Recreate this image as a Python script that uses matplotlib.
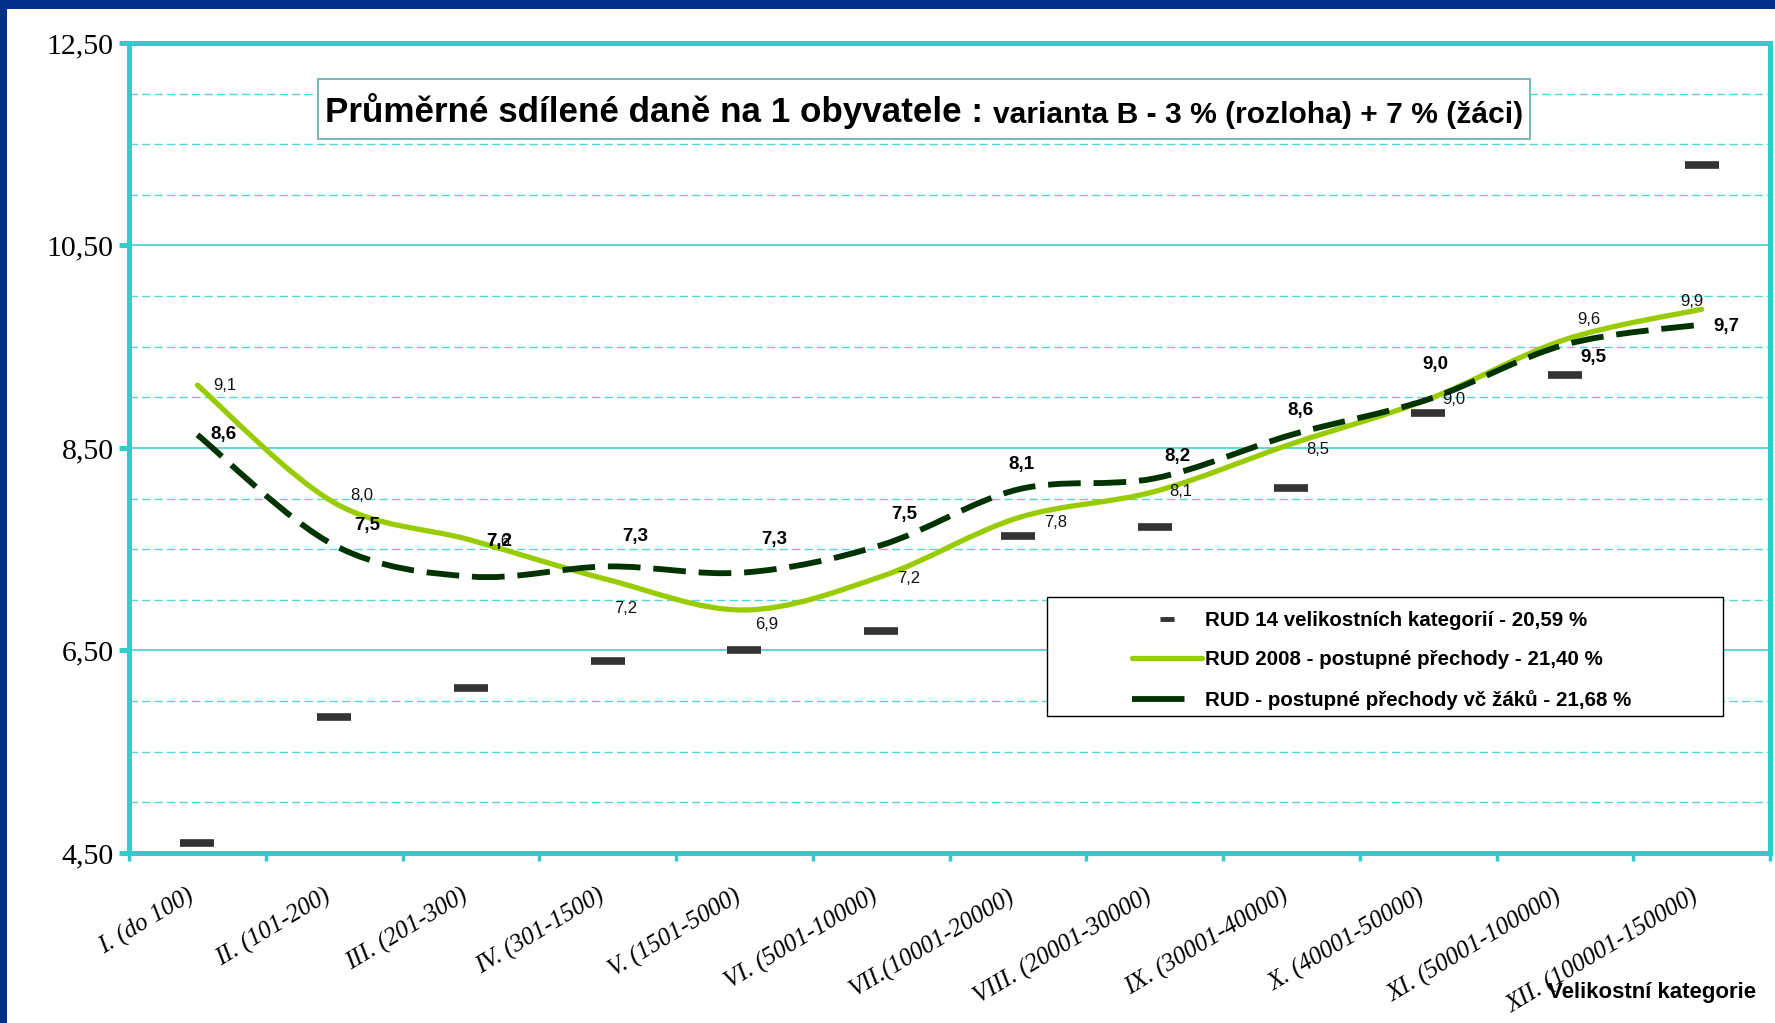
import numpy as np
import matplotlib
matplotlib.use("Agg")
import matplotlib.pyplot as plt
from matplotlib.path import Path
from matplotlib.patches import PathPatch, Rectangle
from matplotlib.lines import Line2D
from matplotlib.ticker import FuncFormatter, FixedLocator
from matplotlib.transforms import ScaledTranslation

# data
categories = ["I. (do 100)", "II. (101-200)", "III. (201-300)", "IV. (301-1500)",
              "V. (1501-5000)", "VI. (5001-10000)", "VII.(10001-20000)",
              "VIII. (20001-30000)", "IX. (30001-40000)", "X. (40001-50000)",
              "XI. (50001-100000)", "XII. (100001-150000)"]
rud14 = [4.60, 5.84, 6.13, 6.40, 6.50, 6.69, 7.63, 7.72, 8.10, 8.85, 9.22, 11.29]
rud2008 = [9.12, 7.96, 7.59, 7.20, 6.90, 7.23, 7.81, 8.07, 8.54, 8.98, 9.57, 9.87]
rud_zaci = [8.63, 7.54, 7.23, 7.33, 7.27, 7.54, 8.09, 8.20, 8.63, 8.98, 9.52, 9.72]
y_ticks = [4.5, 6.5, 8.5, 10.5, 12.5]

legend_labels = ["RUD 14 velikostních kategorií - 20,59 %",
                 "RUD 2008 - postupné přechody - 21,40 %",
                 "RUD - postupné přechody vč žáků - 21,68 %"]

# label offsets in pixels (dx right, dy down)
green_offsets = [(27, 0), (28, -7), (28, 1), (18, 29), (22, 15), (28, 2),
                 (38, 5), (26, 0), (26, 6), (26, 0), (24, -20), (-10, -8)]
dark_offsets = [(26, 0), (33, -20), (28, -35), (28, -30), (30, -33), (23, -31),
                (4, -25), (23, -22), (9, -24), (7, -35), (28, 13), (25, 2)]

CYAN = "#33CCCC"
GREEN = "#99CC00"
DARK = "#003300"
GRAY = "#333333"
NAVY = "#00308C"


def smooth_path(xs, ys):
    # Excel-like smoothed line as cubic bezier segments
    pts = np.column_stack([xs, ys]).astype(float)
    n = len(pts)
    verts = [pts[0]]
    codes = [Path.MOVETO]
    for i in range(n - 1):
        p0 = pts[max(i - 1, 0)]
        p1 = pts[i]
        p2 = pts[i + 1]
        p3 = pts[min(i + 2, n - 1)]
        verts += [p1 + (p2 - p0) / 6, p2 - (p3 - p1) / 6, p2]
        codes += [Path.CURVE4] * 3
    return Path(verts, codes)


fig = plt.figure(figsize=(17.75, 10.23), dpi=100, facecolor=NAVY)
fig.add_artist(Rectangle((7 / 1775, 0), 1, 1 - 9 / 1023, transform=fig.transFigure,
                         facecolor="white", edgecolor="none", zorder=0))

ax = fig.add_axes([0.0727, 0.1662, 0.9245, 0.7918])
ax.set_facecolor("none")
x = np.arange(len(categories))
ax.set_xlim(-0.5, 11.5)
ax.set_ylim(4.5, 12.5)

for s in ax.spines.values():
    s.set_color(CYAN)
    s.set_linewidth(3.6)

# grid
ax.yaxis.set_major_locator(FixedLocator(y_ticks))
ax.yaxis.set_minor_locator(FixedLocator(np.arange(4.5, 12.6, 0.5)))
ax.yaxis.set_major_formatter(FuncFormatter(lambda v, p: f"{v:.2f}".replace(".", ",")))
ax.grid(True, axis="y", which="major", color=CYAN, lw=1.1, zorder=0)
ax.grid(True, axis="y", which="minor", color="#55D5D5", lw=1.0, ls=(0, (6, 3)), zorder=0)
ax.tick_params(axis="y", which="major", direction="out", length=7, width=3.6,
               color=CYAN, pad=4)
ax.tick_params(axis="y", which="minor", length=0)
for lab in ax.get_yticklabels():
    lab.set_fontfamily("Liberation Serif")
    lab.set_fontsize(21.5)

ax.set_xticks(x)
ax.set_xticklabels(categories, rotation=31, ha="right", rotation_mode="anchor",
                   va="center", fontfamily="Liberation Serif", fontstyle="italic",
                   fontsize=18)
ax.set_xticks(np.arange(-0.5, 12, 1), minor=True)
ax.tick_params(axis="x", which="major", length=0, pad=30)
ax.tick_params(axis="x", which="minor", direction="out", length=6, width=2.5, color=CYAN)
shift = ScaledTranslation(-0.05, 0, fig.dpi_scale_trans)
for lab in ax.get_xticklabels():
    lab.set_transform(lab.get_transform() + shift)

# series
ax.plot(x, rud14, ls="none", marker="_", ms=25, mew=5.5, color=GRAY, zorder=3)
ax.add_patch(PathPatch(smooth_path(x, rud2008), fill=False, edgecolor=GREEN,
                       lw=3.8, capstyle="round", zorder=4))
ax.add_patch(PathPatch(smooth_path(x, rud_zaci), fill=False, edgecolor=DARK,
                       lw=4.2, ls=(0, (5.6, 2.2)), capstyle="butt", zorder=5))

# data labels
for i, v in enumerate(rud2008):
    dx, dy = green_offsets[i]
    ax.annotate(f"{v:.1f}".replace(".", ","), (i, v), xytext=(dx * 0.72, -dy * 0.72),
                textcoords="offset points", ha="center", va="center",
                fontfamily="Liberation Sans", fontsize=12, color="#111111", zorder=6)
for i, v in enumerate(rud_zaci):
    dx, dy = dark_offsets[i]
    ax.annotate(f"{v:.1f}".replace(".", ","), (i, v), xytext=(dx * 0.72, -dy * 0.72),
                textcoords="offset points", ha="center", va="center",
                fontfamily="Liberation Sans", fontweight="bold", fontsize=13.5,
                color="black", zorder=6)

# title box
ax.add_patch(Rectangle((0.1152, 0.8815), 0.7386, 0.0741, transform=ax.transAxes,
                       facecolor="white", edgecolor="#66AAAA", lw=1.2, zorder=6))
t1 = ax.text(0.1194, 0.903, "Průměrné sdílené daně na 1 obyvatele : ",
             transform=ax.transAxes, fontsize=25.2, fontweight="bold",
             fontfamily="Liberation Sans", va="baseline", ha="left", zorder=7)
ax.annotate("varianta B - 3 % (rozloha) + 7 % (žáci)", xy=(1, 0), xycoords=t1,
            va="bottom", ha="left", fontsize=21.6, fontweight="bold",
            fontfamily="Liberation Sans", zorder=7)

# legend
ax.add_patch(Rectangle((0.5594, 0.169), 0.412, 0.1464, transform=ax.transAxes,
                       facecolor="white", edgecolor="black", lw=1.0, zorder=6))
handles = [
    Line2D([], [], ls="none", marker="_", ms=10, mew=3.5, color=GRAY),
    Line2D([], [], color=GREEN, lw=3.8, solid_capstyle="round"),
    Line2D([], [], color=DARK, lw=4.2, ls=(0, (9, 3))),
]
leg = ax.legend(handles, legend_labels, loc="upper left", bbox_to_anchor=(0.611, 0.299),
                frameon=False, prop=dict(family="Liberation Sans", weight="bold", size=14.8),
                handlelength=3.4, handletextpad=0.15, labelspacing=1.0,
                borderpad=0, borderaxespad=0)
leg.set_zorder(8)

fig.text(0.931, 0.0303, "Velikostní kategorie", ha="center", va="center",
         fontsize=16, fontweight="bold", fontfamily="Liberation Sans")

fig.savefig("out.png", dpi=100, facecolor=NAVY)
